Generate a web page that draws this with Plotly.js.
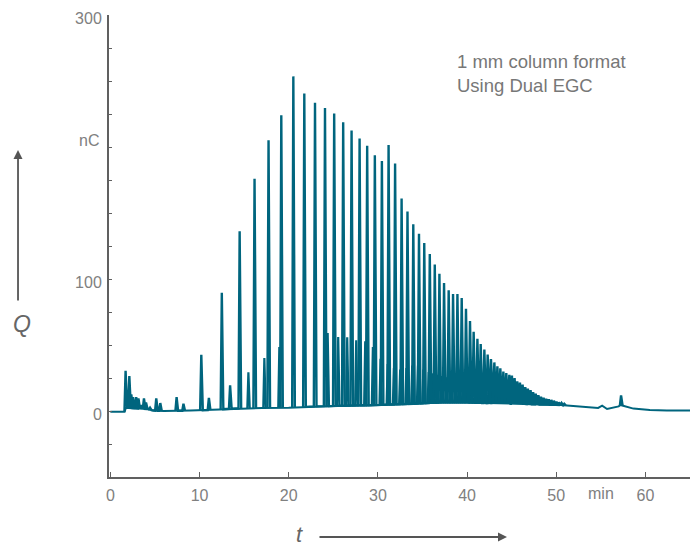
<!DOCTYPE html>
<html><head><meta charset="utf-8">
<script src="https://cdn.plot.ly/plotly-3.0.1.min.js"></script>
<style>html,body{margin:0;padding:0;background:#fff;} #chart{width:694px;height:546px;}</style>
</head><body><div id="chart"></div>
<script>
// Main peak series (retention time in min, charge in nC)
const peakT = [1.71,2.13,2.35,2.55,2.9,3.15,3.45,3.77,4.0,4.45,5.15,5.6,7.43,8.2,10.2,11.05,12.5,13.43,
  14.5,16.17,17.74,19.17,20.52,21.75,22.95,24.07,25.1,26.11,27.05,27.95,28.8,29.66,30.45,31.2,31.93,32.66,
  33.32,33.97,34.61,35.2,35.82,36.38,36.9,37.42,37.94,38.43,38.92,39.4,39.88,40.33,40.74,41.16,41.53,41.94,
  42.31,42.68,43.06,43.4,43.73,44.07,44.4,44.74,45.03,45.33,45.63,45.93,46.23,46.53,46.82,47.12,47.41,47.7,
  48.0,48.29,48.58,48.87,49.16,49.45,49.74,50.03,50.3,50.6,50.9,57.27];
const peakQ = [31,27,13,11,11,10,5,10,7,3,10,6.5,11,6,43,10.5,90,20,
  136.6,176.5,205.7,224.5,254,241,234,230,225.8,219.3,213,207,201.5,194.2,189.8,202,188,161.4,
  151.7,141.9,134.8,127.8,119.5,111.4,104.5,97.5,91.9,89.2,89.2,86.1,78,68.7,60.6,55.3,51.3,47,
  43.2,39.9,37.3,34.3,32.8,30.3,29.3,28,27.3,25.5,23,22,20.5,18.6,17.4,16.3,14.8,13.6,
  12.5,11.4,10.6,9.8,9.3,8.9,8.3,7.6,7,6.6,6,12.3];
// Secondary (minor) peak series
const minorT = [15.48,17.27,18.95,24.37,25.55,26.56,27.57,28.58,29.44,30.3,31.1,31.8,32.5,33.2,33.85,34.5,35.1,
  35.7,36.2,36.7,37.2,37.7,38.2,38.7,39.15,39.6,40.05,40.5,40.95,41.35,41.75,42.1,42.5,42.85,43.2,43.55,
  43.9,44.25,44.6,44.9,45.2,45.5,45.8,46.1,46.4,46.7,47.0,47.3,47.6,47.9,48.2];
const minorQ = [29.8,40.7,49,59.6,56.6,56.3,54,53.3,49,40,36,33,32,33,35,35,32,
  30,29,28,27,26,25.5,25,24.5,24,23.5,23,22.5,22,21.5,21,20.5,20,19.5,19,
  18,17.5,17,16,15.5,15,14,13.5,13,12,11,10,9,8.5,8];
// Baseline
const baseT = [0,1.6,1.75,3.0,4.2,4.8,6,9,12,14,17,20,23,26,30,34,37,40,42,45,48,50.5,51.6,52.7,53.8,54.7,55.15,55.7,57.0,57.2,57.5,58.65,60.5,62.4,65];
const baseQ = [0,0,3,2.5,2,0.8,0.5,0.8,1.5,2.5,2.8,3,4,4.5,5,6,7,7,6.5,6,5.5,5,4.5,4,3,2.8,4.5,2,4,5,4.5,2.3,1.3,0.8,0.8];

const xTickVals = [0,10,20,30,40,50,60,65];
const xTickText = ['0','10','20','30','40','50','60',''];
const yTickVals = [-25,0,25,50,75,100,125,150,175,200,225,250,275,300];
const yTickText = ['','0','','','','100','','','','','','','','300'];
const unitLabel = 'nC';
const timeUnit = 'min';

function baseAt(t){
  if (t <= baseT[0]) return baseQ[0];
  for (let i=1;i<baseT.length;i++){
    if (t <= baseT[i]){
      const f=(t-baseT[i-1])/(baseT[i]-baseT[i-1]);
      return baseQ[i-1]+f*(baseQ[i]-baseQ[i-1]);
    }
  }
  return baseQ[baseQ.length-1];
}
function spikes(ts, qs, wl, wr){
  const x=[], y=[];
  for (let i=0;i<ts.length;i++){
    if (i>0 && ts[i]-ts[i-1] > 1.2){ x.push(null); y.push(null); }
    x.push(ts[i]-wl, ts[i], ts[i]+wr);
    y.push(baseAt(ts[i]-wl), qs[i], baseAt(ts[i]+wr));
  }
  return {x,y};
}
const col = '#00657e';
const mainS = spikes(peakT, peakQ, 0.13, 0.17);
const minS = spikes(minorT, minorQ, 0.12, 0.15);
const traces = [
  {x: baseT, y: baseQ, mode:'lines', line:{color:col, width:2}, hoverinfo:'skip'},
  {x: minS.x, y: minS.y, mode:'lines', line:{color:col, width:2.2}, hoverinfo:'skip'},
  {x: mainS.x, y: mainS.y, mode:'lines', line:{color:col, width:2.4}, hoverinfo:'skip'}
];
const fnt = {family:'Liberation Sans, Arial, sans-serif', size:16, color:'#808080'};
const axCol = '#606060';
const layout = {
  width:694, height:546,
  margin:{l:109, r:4, t:15, b:69},
  paper_bgcolor:'#fff', plot_bgcolor:'#fff',
  showlegend:false,
  font: fnt,
  xaxis:{range:[-0.15,65], showline:true, linecolor:axCol, linewidth:2, showgrid:false, zeroline:false,
    ticks:'inside', ticklen:5, tickwidth:1, tickcolor:axCol, tickmode:'array', tickvals:xTickVals, ticktext:xTickText,
    tickfont:fnt, ticklabelstandoff:3},
  yaxis:{range:[-49.5,300.5], showline:true, linecolor:axCol, linewidth:2, showgrid:false, zeroline:false,
    ticks:'inside', ticklen:3, tickwidth:1, tickcolor:axCol, tickmode:'array', tickvals:yTickVals, ticktext:yTickText,
    tickfont:fnt, ticklabelstandoff:2, ticklabelshift:3},
  annotations:[
    {xref:'paper', yref:'paper', x:0.5955, y:0.8723, xanchor:'left', yanchor:'middle', align:'left', showarrow:false,
     text:'1 mm column format<br>Using Dual EGC', font:{family:fnt.family, size:18.5, color:'#777'}},
    {xref:'x', yref:'paper', x:55, y:-0.0357, xanchor:'center', yanchor:'middle', showarrow:false, text:timeUnit, font:fnt},
    {xref:'paper', yref:'paper', x:-0.0138, y:0.7279, xanchor:'right', yanchor:'middle', showarrow:false, text:unitLabel, font:fnt},
    {xref:'paper', yref:'paper', x:-0.1497, y:0.3312, xanchor:'center', yanchor:'middle', showarrow:false,
     text:'<i>Q</i>', font:{family:fnt.family, size:23, color:'#666'}},
    {xref:'paper', yref:'paper', x:0.3287, y:-0.1234, xanchor:'center', yanchor:'middle', showarrow:false,
     text:'<i>t</i>', font:{family:fnt.family, size:22, color:'#666'}},
    {xref:'paper', yref:'paper', x:-0.1566, y:0.7078, ax:0, ay:152, axref:'pixel', ayref:'pixel', text:'', showarrow:true,
     arrowhead:2, arrowsize:1, arrowwidth:1.8, arrowcolor:'#555', standoff:0, startstandoff:0},
    {xref:'paper', yref:'paper', x:0.685, y:-0.1299, ax:-189, ay:0, axref:'pixel', ayref:'pixel', text:'', showarrow:true,
     arrowhead:2, arrowsize:1, arrowwidth:1.8, arrowcolor:'#555', standoff:0, startstandoff:0}
  ]
};
Plotly.newPlot('chart', traces, layout, {displayModeBar:false, staticPlot:true});
</script></body></html>
